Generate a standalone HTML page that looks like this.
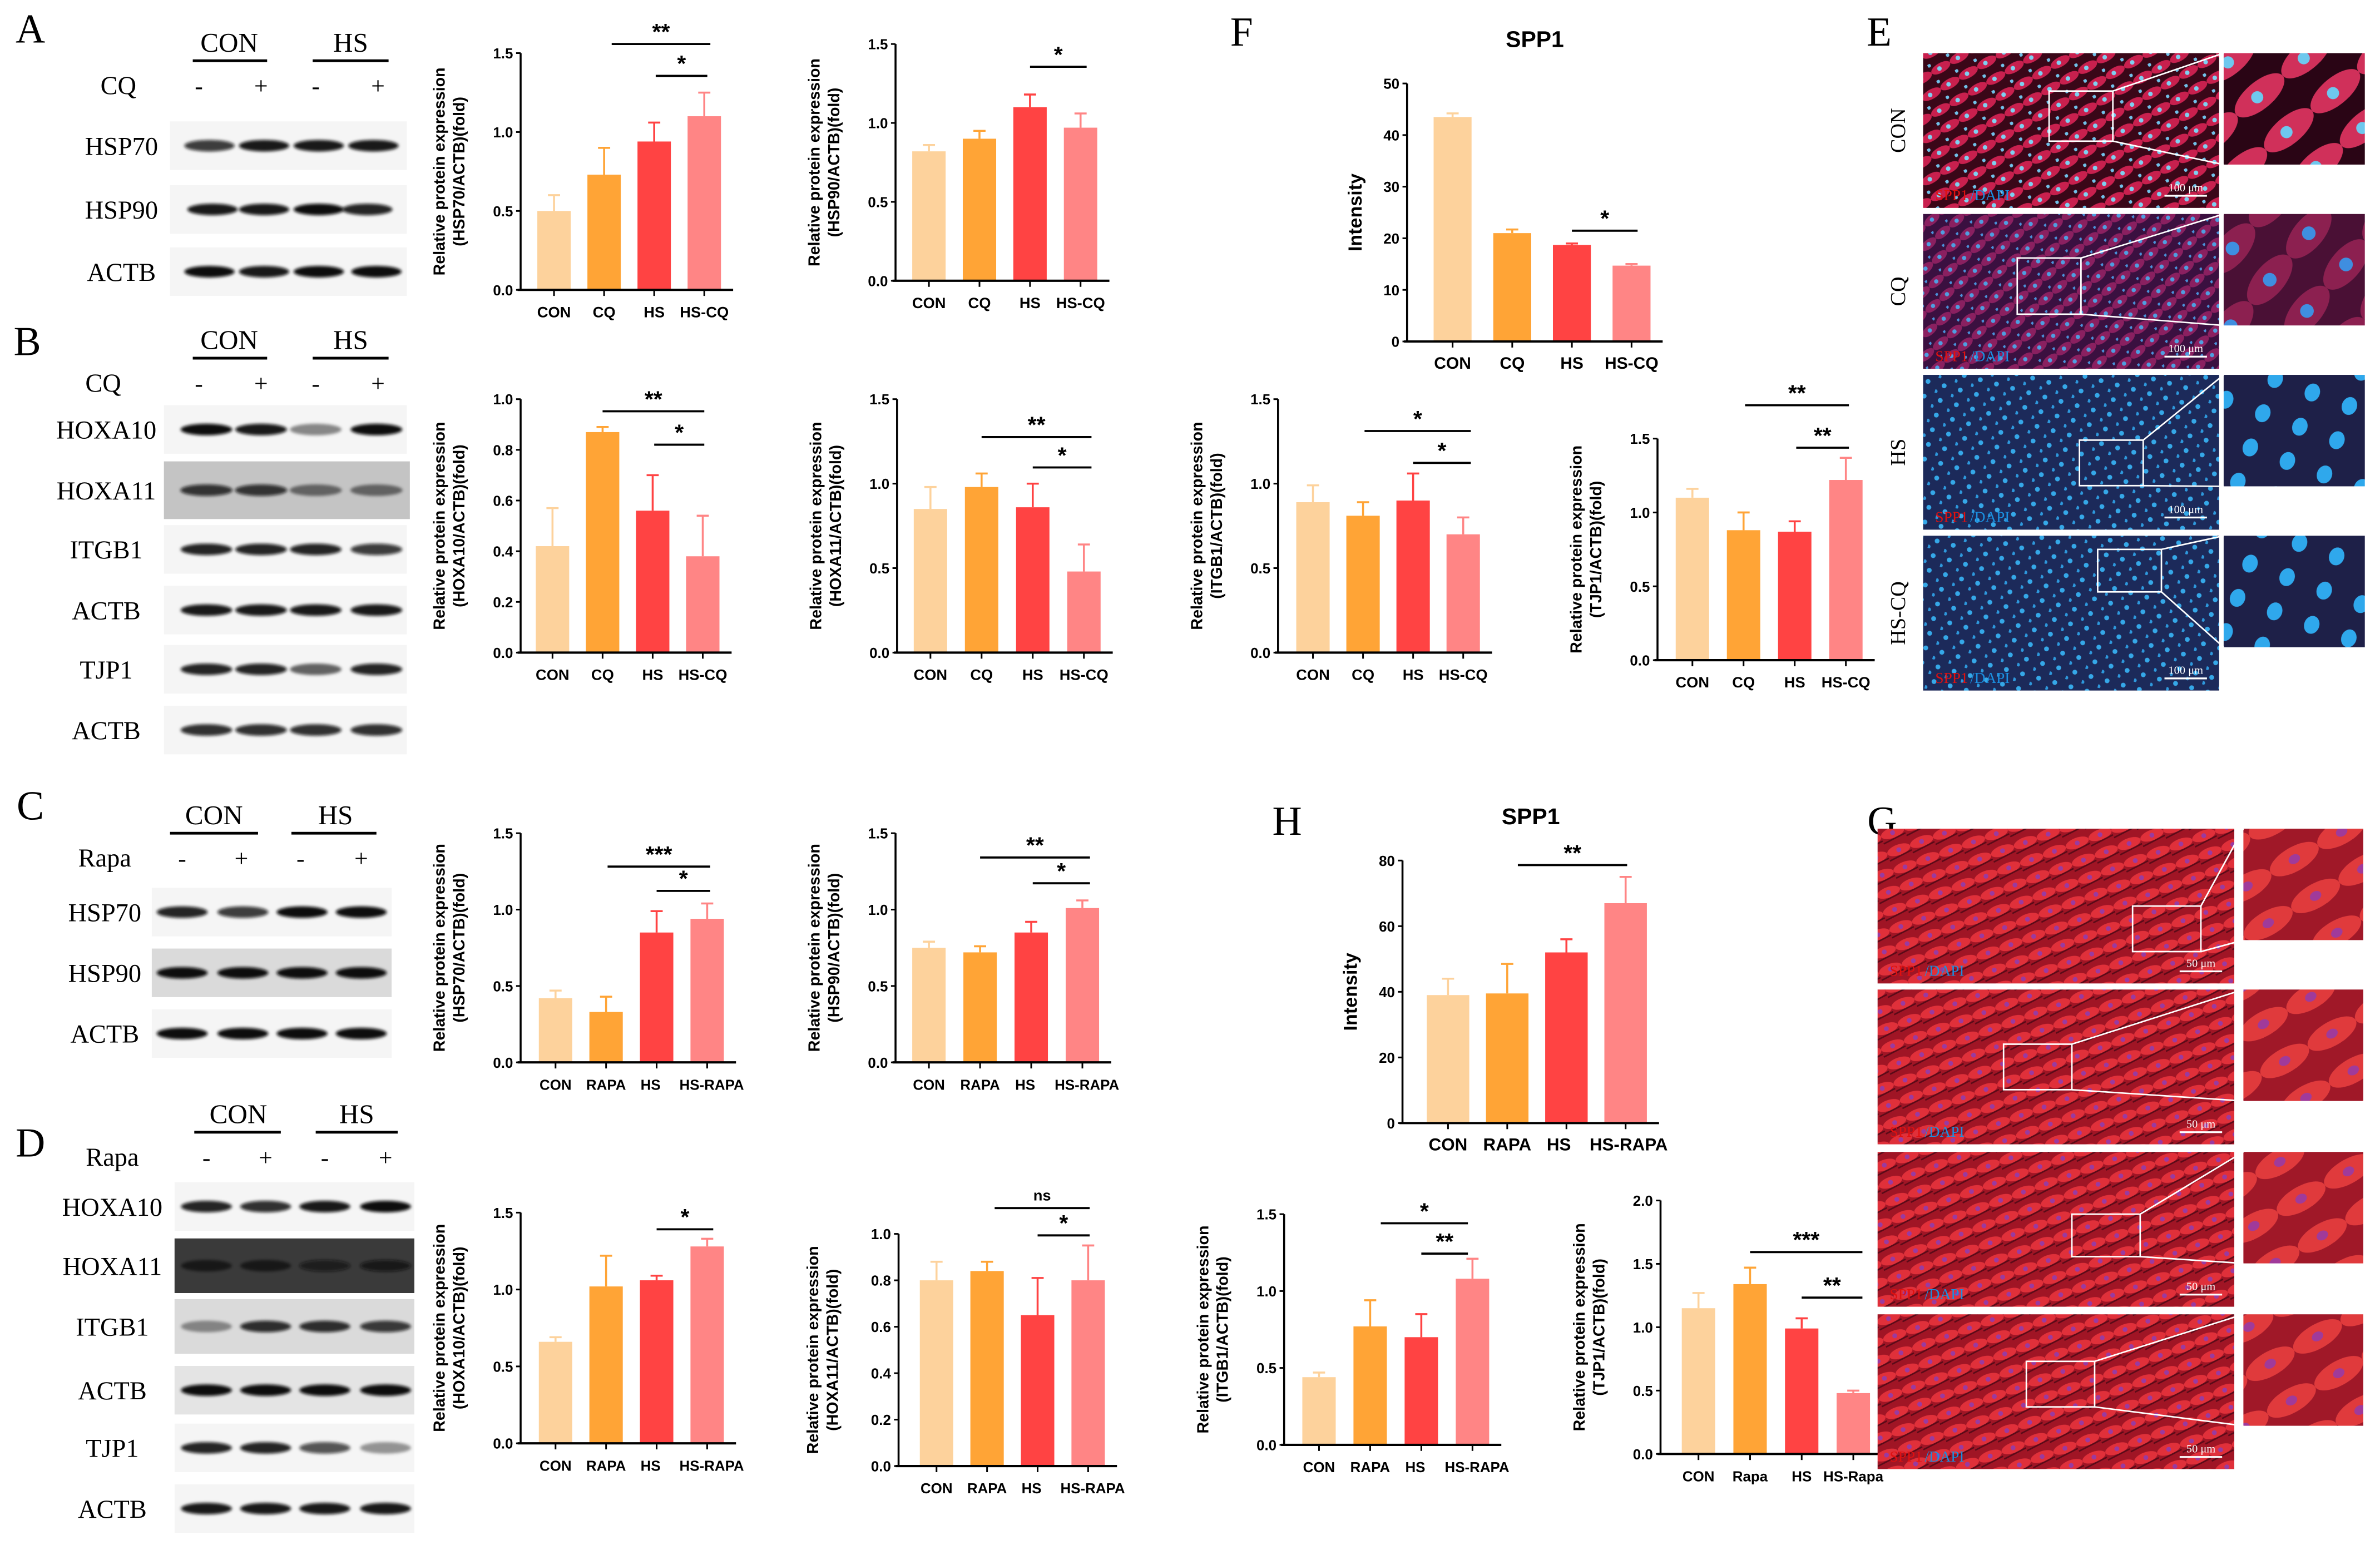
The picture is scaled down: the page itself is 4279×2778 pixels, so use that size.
<!DOCTYPE html>
<html><head><meta charset="utf-8"><title>Figure</title>
<style>
html,body{margin:0;padding:0;background:#fff;width:4279px;height:2778px;overflow:hidden}
svg{display:block}
.lbl{font-family:"Liberation Serif",serif}
.ax{font-family:"Liberation Sans",sans-serif;font-weight:bold}
</style></head>
<body>
<svg id="fig" width="4279" height="2778" viewBox="0 0 1568 1018" preserveAspectRatio="none" xmlns="http://www.w3.org/2000/svg">
<defs>
<filter id="blur1" x="-20%" y="-100%" width="140%" height="300%"><feGaussianBlur stdDeviation="1.0"/></filter>
<pattern id="cellsRed" width="14" height="12" patternUnits="userSpaceOnUse" patternTransform="rotate(-30)">
<rect width="14" height="12" fill="#3a0718"/>
<ellipse cx="7" cy="6" rx="7" ry="3.2" fill="#c8204e"/>
<circle cx="6" cy="6" r="1.5" fill="#7fd0f0"/>
<circle cx="1" cy="1" r="1.2" fill="#70c0e8"/>
</pattern>
<pattern id="cellsPurple" width="12" height="11" patternUnits="userSpaceOnUse" patternTransform="rotate(-40)">
<rect width="12" height="11" fill="#3b1040"/>
<ellipse cx="6" cy="5" rx="6" ry="3" fill="#8a2060"/>
<circle cx="6" cy="5" r="1.4" fill="#4f9ee0"/>
<circle cx="0.5" cy="0.5" r="1.2" fill="#4a90d8"/>
</pattern>
<pattern id="cellsBlue" width="11" height="10" patternUnits="userSpaceOnUse" patternTransform="rotate(15)">
<rect width="11" height="10" fill="#1c2a5a"/>
<circle cx="5" cy="4" r="1.6" fill="#35a8e8"/>
<circle cx="0.5" cy="9" r="1.3" fill="#2e98dc"/>
</pattern>
<pattern id="cellsRed2" width="16" height="12" patternUnits="userSpaceOnUse" patternTransform="rotate(-20)">
<rect width="16" height="12" fill="#a01525"/>
<ellipse cx="8" cy="6" rx="8" ry="3.5" fill="#e0303a"/>
<circle cx="8" cy="6" r="1.6" fill="#9a3aa0"/>
<path d="M0 11 L16 9" stroke="#5a0a18" stroke-width="1"/>
</pattern>
<pattern id="zoomRed" width="40" height="30" patternUnits="userSpaceOnUse" patternTransform="rotate(-40)">
<rect width="40" height="30" fill="#2a0515"/>
<ellipse cx="20" cy="15" rx="20" ry="9" fill="#d0305a"/>
<circle cx="18" cy="15" r="4" fill="#6ec8ee"/>
</pattern>
<pattern id="zoomPurple" width="40" height="32" patternUnits="userSpaceOnUse" patternTransform="rotate(-50)">
<rect width="40" height="32" fill="#4a1035"/>
<ellipse cx="20" cy="16" rx="20" ry="10" fill="#8c2050"/>
<circle cx="20" cy="16" r="4.5" fill="#3f8ee0"/>
</pattern>
<pattern id="zoomBlue" width="26" height="24" patternUnits="userSpaceOnUse" patternTransform="rotate(20)">
<rect width="26" height="24" fill="#1e2048"/>
<ellipse cx="12" cy="10" rx="5" ry="6" fill="#2fa8ec"/>
</pattern>
<pattern id="zoomRed2" width="36" height="28" patternUnits="userSpaceOnUse" patternTransform="rotate(-30)">
<rect width="36" height="28" fill="#a01828"/>
<ellipse cx="18" cy="14" rx="18" ry="8" fill="#e03a3c"/>
<ellipse cx="18" cy="14" rx="4" ry="3" fill="#a03a9a"/>
</pattern>
</defs>
</svg>
<script>
// ---------- chart data (top-level arrays) ----------
const catsCQ = ["CON","CQ","HS","HS-CQ"];
const catsRAPA = ["CON","RAPA","HS","HS-RAPA"];
const catsRapa = ["CON","Rapa","HS","HS-Rapa"];

const valsA1 = [0.50, 0.73, 0.94, 1.10];
const errsA1 = [0.10, 0.17, 0.12, 0.15];
const ticksA1 = [0, 0.5, 1.0, 1.5];
const sigA1 = ["**","*"];

const valsA2 = [0.82, 0.90, 1.10, 0.97];
const errsA2 = [0.04, 0.05, 0.08, 0.09];
const ticksA2 = [0, 0.5, 1.0, 1.5];
const sigA2 = ["*"];

const valsB1 = [0.42, 0.87, 0.56, 0.38];
const errsB1 = [0.15, 0.02, 0.14, 0.16];
const ticksB1 = [0, 0.2, 0.4, 0.6, 0.8, 1.0];
const sigB1 = ["**","*"];

const valsB2 = [0.85, 0.98, 0.86, 0.48];
const errsB2 = [0.13, 0.08, 0.14, 0.16];
const ticksB2 = [0, 0.5, 1.0, 1.5];
const sigB2 = ["**","*"];

const valsC1 = [0.42, 0.33, 0.85, 0.94];
const errsC1 = [0.05, 0.10, 0.14, 0.10];
const ticksC1 = [0, 0.5, 1.0, 1.5];
const sigC1 = ["***","*"];

const valsC2 = [0.75, 0.72, 0.85, 1.01];
const errsC2 = [0.04, 0.04, 0.07, 0.05];
const ticksC2 = [0, 0.5, 1.0, 1.5];
const sigC2 = ["**","*"];

const valsD1 = [0.66, 1.02, 1.06, 1.28];
const errsD1 = [0.03, 0.20, 0.03, 0.05];
const ticksD1 = [0, 0.5, 1.0, 1.5];
const sigD1 = ["*"];

const valsD2 = [0.80, 0.84, 0.65, 0.80];
const errsD2 = [0.08, 0.04, 0.16, 0.15];
const ticksD2 = [0, 0.2, 0.4, 0.6, 0.8, 1.0];
const sigD2 = ["ns","*"];

const valsF0 = [43.5, 21.0, 18.7, 14.7];
const errsF0 = [0.7, 0.7, 0.3, 0.3];
const ticksF0 = [0, 10, 20, 30, 40, 50];
const sigF0 = ["*"];

const valsF1 = [0.89, 0.81, 0.90, 0.70];
const errsF1 = [0.10, 0.08, 0.16, 0.10];
const ticksF1 = [0, 0.5, 1.0, 1.5];
const sigF1 = ["*","*"];

const valsF2 = [1.10, 0.88, 0.87, 1.22];
const errsF2 = [0.06, 0.12, 0.07, 0.15];
const ticksF2 = [0, 0.5, 1.0, 1.5];
const sigF2 = ["**","**"];

const valsH0 = [39, 39.5, 52, 67];
const errsH0 = [5, 9, 4, 8];
const ticksH0 = [0, 20, 40, 60, 80];
const sigH0 = ["**"];

const valsH1 = [0.44, 0.77, 0.70, 1.08];
const errsH1 = [0.03, 0.17, 0.15, 0.13];
const ticksH1 = [0, 0.5, 1.0, 1.5];
const sigH1 = ["*","**"];

const valsH2 = [1.15, 1.34, 0.99, 0.48];
const errsH2 = [0.12, 0.13, 0.08, 0.02];
const ticksH2 = [0, 0.5, 1.0, 1.5, 2.0];
const sigH2 = ["***","**"];

const colors = ["#FDD29C","#FFA436","#FF4343","#FF8585"];
const NS = "http://www.w3.org/2000/svg";
const svg = document.getElementById('fig');

function mk(tag, attrs, parent){
  const e = document.createElementNS(NS, tag);
  for (const k in attrs) e.setAttribute(k, attrs[k]);
  (parent||svg).appendChild(e);
  return e;
}
function txt(s, x, y, size, cls, anchor, parent, extra){
  const t = mk('text', Object.assign({x:x, y:y, 'font-size':size, class:cls, 'text-anchor':anchor||'middle'}, extra||{}), parent);
  t.textContent = s;
  return t;
}
function fmt(v, ticks){
  const step = ticks[1]-ticks[0];
  if (step >= 1) return String(v);
  return v.toFixed(1);
}

function chart(name, cats, vals, errs, ticks, sigs, cfg){
  const g = mk('g', {});
  
  
  const max = ticks[ticks.length-1];
  const y = v => cfg.bottom - v / max * (cfg.bottom - cfg.top);
  const bx = i => cfg.x0 + i * cfg.step;
  const bw = cfg.bw || 22;
  vals.forEach((v,i)=>{
    const r = mk('rect', {x:bx(i)-bw/2, y:y(v), width:bw, height:cfg.bottom-y(v), fill:colors[i]}, g);
    
    
    const eb = mk('path', {d:`M${bx(i)} ${y(v)} V${y(v+errs[i])} M${bx(i)-4} ${y(v+errs[i])} H${bx(i)+4}`, stroke:colors[i], 'stroke-width':1.3, fill:'none'}, g);
    
    
  });
  const xEnd = bx(cats.length-1) + bw/2 + 8;
  mk('line', {x1:cfg.ax, x2:cfg.ax, y1:cfg.top, y2:cfg.bottom, stroke:'#000', 'stroke-width':1.3}, g);
  mk('line', {x1:cfg.ax-2, x2:xEnd, y1:cfg.bottom, y2:cfg.bottom, stroke:'#000', 'stroke-width':1.5}, g);
  ticks.forEach(t=>{
    mk('line', {x1:cfg.ax-3, x2:cfg.ax, y1:y(t), y2:y(t), stroke:'#000', 'stroke-width':1.1}, g);
    const tl = txt(fmt(t, ticks), cfg.ax-5, y(t)+3.5, 9.5, 'ax', 'end', g);
    
    
  });
  cats.forEach((c,i)=>{
    mk('line', {x1:bx(i), x2:bx(i), y1:cfg.bottom, y2:cfg.bottom+4, stroke:'#000', 'stroke-width':1.1}, g);
    const xl = txt(c, bx(i) + (cfg.labOff ? cfg.labOff[i] : 0), cfg.bottom+18, cfg.labSize||10, 'ax', 'middle', g);
    
    
  });
  const yt = mk('g', {transform:`translate(${cfg.ax - (cfg.ytOff||37)},${(cfg.top+cfg.bottom)/2}) rotate(-90)`}, g);
  
  
  if (cfg.ytitle2){
    txt('Relative protein expression', 0, -13, 10.5, 'ax', 'middle', yt);
    txt(cfg.ytitle2, 0, 0, 10.5, 'ax', 'middle', yt);
  } else {
    txt(cfg.ytitle, 0, 0, 12.5, 'ax', 'middle', yt);
  }
  if (cfg.title){
    const tt = txt(cfg.title, (cfg.ax+xEnd)/2, cfg.top-24, 15, 'ax', 'middle', g);
    
    
  }
  sigs.forEach((s,k)=>{
    const sp = cfg.sig[k];
    const x1 = bx(sp[0]) + (sp[2]||0), x2 = bx(3) + (sp[3]||4);
    const ln = mk('line', {x1:x1, x2:x2, y1:sp[1], y2:sp[1], stroke:'#000', 'stroke-width':1.4}, g);
    
    
    const st = txt(s, (x1+x2)/2, sp[1] - (s==='ns'?5:3), s==='ns'?10:15, 'ax', 'middle', g);
    
    
  });
}

chart('chart-hsp70-cq', catsCQ, valsA1, errsA1, ticksA1, sigA1, {ax:343, top:35, bottom:191, x0:365, step:33, ytitle2:'(HSP70/ACTB)(fold)', sig:[[1,29,5,4],[2,50,1,2]]});
chart('chart-hsp90-cq', catsCQ, valsA2, errsA2, ticksA2, sigA2, {ax:590, top:29, bottom:185, x0:612, step:33.3, ytitle2:'(HSP90/ACTB)(fold)', sig:[[2,44,0,0]]});
chart('chart-hoxa10-cq', catsCQ, valsB1, errsB1, ticksB1, sigB1, {ax:343, top:263, bottom:430, x0:364, step:33, ytitle2:'(HOXA10/ACTB)(fold)', sig:[[1,271,0,1],[2,293,1,1]]});
chart('chart-hoxa11-cq', catsCQ, valsB2, errsB2, ticksB2, sigB2, {ax:591, top:263, bottom:430, x0:613, step:33.7, ytitle2:'(HOXA11/ACTB)(fold)', sig:[[1,288,0,5],[2,308,0,5]]});
chart('chart-hsp70-rapa', catsRAPA, valsC1, errsC1, ticksC1, sigC1, {ax:343, top:549, bottom:700, x0:366, step:33.3, labSize:9.5, labOff:[0,0,-4,3], ytitle2:'(HSP70/ACTB)(fold)', sig:[[1,571,1,2],[2,587,0,2]]});
chart('chart-hsp90-rapa', catsRAPA, valsC2, errsC2, ticksC2, sigC2, {ax:590, top:549, bottom:700, x0:612, step:33.7, labSize:9.5, labOff:[0,0,-4,3], ytitle2:'(HSP90/ACTB)(fold)', sig:[[1,565,0,5],[2,582,1,5]]});
chart('chart-hoxa10-rapa', catsRAPA, valsD1, errsD1, ticksD1, sigD1, {ax:343, top:799, bottom:951, x0:366, step:33.3, labSize:9.5, labOff:[0,0,-4,3], ytitle2:'(HOXA10/ACTB)(fold)', sig:[[2,810,0,0]]});
chart('chart-hoxa11-rapa', catsRAPA, valsD2, errsD2, ticksD2, sigD2, {ax:592, top:813, bottom:966, x0:617, step:33.3, labSize:9.5, labOff:[0,0,-4,3], ytitle2:'(HOXA11/ACTB)(fold)', ytOff:40, sig:[[1,796,5,1],[2,814,0,1]]});
chart('chart-spp1-cq', catsCQ, valsF0, errsF0, ticksF0, sigF0, {ax:927, top:55, bottom:225, x0:957, step:39.3, bw:25, labSize:11, ytitle:'Intensity', ytOff:30, title:'SPP1', sig:[[2,152,0,0]]});
chart('chart-itgb1-cq', catsCQ, valsF1, errsF1, ticksF1, sigF1, {ax:842, top:263, bottom:430, x0:865, step:33, ytitle2:'(ITGB1/ACTB)(fold)', sig:[[1,284,1,5],[2,305,0,5]]});
chart('chart-tjp1-cq', catsCQ, valsF2, errsF2, ticksF2, sigF2, {ax:1092, top:289, bottom:435, x0:1115, step:33.7, ytitle2:'(TJP1/ACTB)(fold)', sig:[[1,267,1,2],[2,295,1,2]]});
chart('chart-spp1-rapa', catsRAPA, valsH0, errsH0, ticksH0, sigH0, {ax:924, top:567, bottom:740, x0:954, step:39, bw:28, labSize:11.5, labOff:[0,0,-5,2], ytitle:'Intensity', ytOff:30, title:'SPP1', sig:[[1,570,7,1]]});
chart('chart-itgb1-rapa', catsRAPA, valsH1, errsH1, ticksH1, sigH1, {ax:846, top:800, bottom:952, x0:869, step:33.7, labSize:9.5, labOff:[0,0,-4,3], ytitle2:'(ITGB1/ACTB)(fold)', sig:[[1,806,7,-3],[2,826,0,-3]]});
chart('chart-tjp1-rapa', catsRapa, valsH2, errsH2, ticksH2, sigH2, {ax:1094, top:791, bottom:958, x0:1119, step:34, labSize:9.5, ytitle2:'(TJP1/ACTB)(fold)', sig:[[1,825,0,6],[2,855,0,6]]});

[['A',20,28],['B',18,234],['C',20,540],['D',20,762],['F',818,30],['E',1238,30],['H',848,550],['G',1240,550]].forEach(p=>{
  const t = txt(p[0], p[1], p[2], 27, 'lbl', 'middle');
  
  
});

function blotHeader(y, lanes, treat, conX, hsX, lineY){
  const g = mk('g', {});
  
  
  txt('CON', conX[0], y, 18, 'lbl', 'middle', g);
  txt('HS', hsX[0], y, 18, 'lbl', 'middle', g);
  mk('line', {x1:conX[1], x2:conX[2], y1:lineY, y2:lineY, stroke:'#000', 'stroke-width':1.8}, g);
  mk('line', {x1:hsX[1], x2:hsX[2], y1:lineY, y2:lineY, stroke:'#000', 'stroke-width':1.8}, g);
  txt(treat[0], treat[1], y+28, 17, 'lbl', 'middle', g);
  ['-','+','-','+'].forEach((s,i)=> txt(s, lanes[i], y+28, 16, 'lbl', 'middle', g));
}
function blotRow(name, label, labX, y, bx1, bx2, lanes, intens, bg, h){
  const g = mk('g', {});
  
  
  txt(label, labX, y+6, 17, 'lbl', 'middle', g);
  mk('rect', {x:bx1, y:y-(h||16), width:bx2-bx1, height:2*(h||16), fill:bg||'#f5f5f5'}, g);
  const lw = (bx2-bx1)/4*0.85;
  lanes.forEach((lx,i)=>{
    mk('ellipse', {cx:lx, cy:y, rx:lw/2, ry:3.8, fill:'#0a0a0a', 'fill-opacity':intens[i], filter:'url(#blur1)'}, g);
  });
}
blotHeader(34, [131,172,208,249], ['CQ',78], [151,127,176], [231,206,256], 40);
blotRow('hsp70-a','HSP70',80,96,112,268,[138,174,210,246],[0.8,0.95,0.95,0.95]);
blotRow('hsp90-a','HSP90',80,138,112,268,[140,174,210,242],[0.95,0.95,1,0.9]);
blotRow('actb-a','ACTB',80,179,112,268,[138,174,210,248],[1,0.95,1,1]);
blotHeader(230, [131,172,208,249], ['CQ',68], [151,127,176], [231,206,256], 236);
blotRow('hoxa10-b','HOXA10',70,283,108,268,[136,172,208,248],[1,0.95,0.45,1]);
blotRow('hoxa11-b','HOXA11',70,323,108,270,[136,172,208,248],[0.8,0.8,0.5,0.5],'#c4c4c4',19);
blotRow('itgb1-b','ITGB1',70,362,108,268,[136,172,208,248],[0.9,0.9,0.9,0.8]);
blotRow('actb-b1','ACTB',70,402,108,268,[136,172,208,248],[0.95,0.95,0.95,0.95]);
blotRow('tjp1-b','TJP1',70,441,108,268,[136,172,208,248],[0.9,0.9,0.6,0.9]);
blotRow('actb-b2','ACTB',70,481,108,268,[136,172,208,248],[0.85,0.85,0.85,0.85]);
blotHeader(543, [120,159,198,238], ['Rapa',69], [141,112,170], [221,192,248], 549);
blotRow('hsp70-c','HSP70',69,601,100,258,[120,160,199,238],[0.9,0.8,1,1]);
blotRow('hsp90-c','HSP90',69,641,100,258,[120,160,199,238],[1,1,1,1],'#dadada');
blotRow('actb-c','ACTB',69,681,100,258,[120,160,199,238],[1,1,1,1]);
blotHeader(740, [136,175,214,254], ['Rapa',74], [157,128,185], [235,208,262], 746);
blotRow('hoxa10-d','HOXA10',74,795,115,273,[136,175,214,254],[0.9,0.85,0.95,1]);
blotRow('hoxa11-d','HOXA11',74,834,115,273,[136,175,214,254],[0.6,0.6,0.7,0.8],'#3a3a3a',18);
blotRow('itgb1-d','ITGB1',74,874,115,273,[136,175,214,254],[0.4,0.85,0.85,0.8],'#dadada',18);
blotRow('actb-d1','ACTB',74,916,115,273,[136,175,214,254],[1,1,1,1],'#e4e4e4');
blotRow('tjp1-d','TJP1',74,954,115,273,[136,175,214,254],[0.9,0.9,0.7,0.4]);
blotRow('actb-d2','ACTB',74,994,115,273,[136,175,214,254],[0.95,0.95,0.95,0.95]);

function micro(name, label, labX, x, y, w, h, inX, inW, pat, zpat, box, bar){
  const g = mk('g', {});
  
  
  txt(label, 0, 0, 14, 'lbl', 'middle', g, {transform:`translate(${labX},${y+h/2}) rotate(-90)`});
  mk('rect', {x:x, y:y, width:w, height:h, fill:'url(#'+pat+')'}, g);
  mk('rect', {x:inX, y:y, width:inW, height:h*0.72, fill:'url(#'+zpat+')'}, g);
  mk('rect', {x:box[0], y:box[1], width:box[2], height:box[3], fill:'none', stroke:'#fff', 'stroke-width':1}, g);
  mk('line', {x1:box[0]+box[2], y1:box[1], x2:inX, y2:y, stroke:'#fff', 'stroke-width':1}, g);
  mk('line', {x1:box[0]+box[2], y1:box[1]+box[3], x2:inX, y2:y+h*0.72, stroke:'#fff', 'stroke-width':1}, g);
  txt('SPP1', x+8, y+h-5, 10, 'lbl', 'start', g, {fill:'#e01010'});
  txt('/DAPI', x+31, y+h-5, 10, 'lbl', 'start', g, {fill:'#1a8fe0'});
  mk('line', {x1:x+w-36, x2:x+w-8, y1:y+h-8, y2:y+h-8, stroke:'#fff', 'stroke-width':1.2}, g);
  txt(bar, x+w-22, y+h-11, 7.5, 'lbl', 'middle', g, {fill:'#fff'});
}
micro('con-cq','CON',1255,1267,35,195,102,1465,93,'cellsRed','zoomRed',[1350,60,42,33],'100 μm');
micro('cq','CQ',1255,1267,141,195,102,1465,93,'cellsPurple','zoomPurple',[1329,170,42,37],'100 μm');
micro('hs-cq','HS',1255,1267,247,195,102,1465,93,'cellsBlue','zoomBlue',[1370,290,42,30],'100 μm');
micro('hscq','HS-CQ',1255,1267,353,195,102,1465,93,'cellsBlue','zoomBlue',[1382,362,42,28],'100 μm');
micro('con-rapa','CON',1250,1237,546,235,102,1478,79,'cellsRed2','zoomRed2',[1405,597,45,30],'50 μm');
micro('rapa','RAPA',1250,1237,652,235,102,1478,79,'cellsRed2','zoomRed2',[1320,688,45,30],'50 μm');
micro('hs-rapa','HS',1250,1237,759,235,102,1478,79,'cellsRed2','zoomRed2',[1365,800,45,28],'50 μm');
micro('hsrapa','HS-RAPA',1250,1237,866,235,102,1478,79,'cellsRed2','zoomRed2',[1335,897,45,30],'50 μm');
</script>
</body></html>
